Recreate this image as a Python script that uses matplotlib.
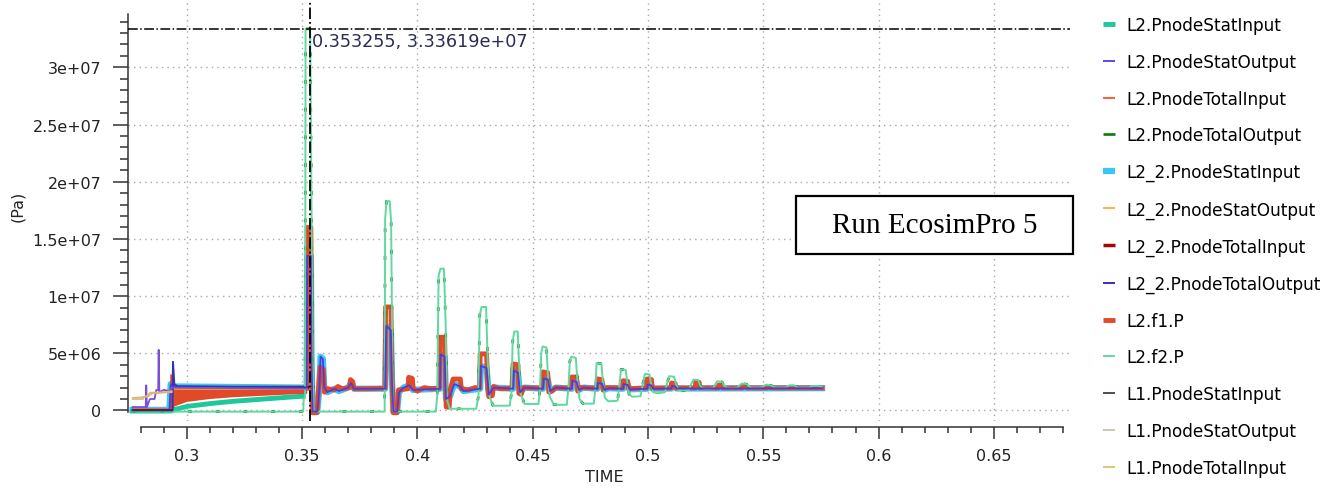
import numpy as np
import matplotlib.pyplot as plt
from matplotlib.ticker import MultipleLocator, FixedLocator, FuncFormatter
from matplotlib.patches import Rectangle

plt.rcParams['font.family'] = ['DejaVu Sans']

# values are in 1e6 Pa, time in s
# L2.f2.P (light green)
t_f2 = [0.2765, 0.3505, 0.3507, 0.3513, 0.3515, 0.3535, 0.3540, 0.3545, 0.3550,
        0.3858, 0.3860, 0.3866, 0.3880, 0.3886, 0.3892, 0.3896,
        0.4080, 0.4086, 0.4092, 0.4100, 0.4115, 0.4122, 0.4128, 0.4140,
        0.4255, 0.4265, 0.4270, 0.4278, 0.4298, 0.4305, 0.4313, 0.4328,
        0.4400, 0.4408, 0.4413, 0.4420, 0.4435, 0.4440, 0.4447, 0.4465,
        0.4525, 0.4532, 0.4537, 0.4543, 0.4560, 0.4566, 0.4574, 0.4592,
        0.4648, 0.4655, 0.4661, 0.4667, 0.4687, 0.4694, 0.4703, 0.4718,
        0.4765, 0.4772, 0.4777, 0.4798, 0.4804, 0.4813, 0.4828,
        0.4868, 0.4876, 0.4883, 0.4903, 0.4910, 0.4918, 0.4933,
        0.4968, 0.4977, 0.4987, 0.5006, 0.5013, 0.5023, 0.5040,
        0.5073, 0.5082, 0.5092, 0.5113, 0.5121, 0.5132, 0.5150,
        0.5178, 0.5187, 0.5197, 0.5218, 0.5225, 0.5237, 0.5255,
        0.5283, 0.5292, 0.5300, 0.5321, 0.5328, 0.5341, 0.5360,
        0.5388, 0.5397, 0.5407, 0.5428, 0.5435, 0.5447, 0.5465,
        0.5493, 0.5502, 0.5512, 0.5533, 0.5540, 0.5552, 0.5570,
        0.5598, 0.5607, 0.5615, 0.5633, 0.5641, 0.5652, 0.5670,
        0.5698, 0.5707, 0.5715, 0.5733, 0.5741, 0.5755]
p_f2 = [-0.1, -0.1, 1.0, 1.2, 33.36, 33.36, 20.0, 5.0, -0.1,
        -0.1, 16.7, 18.3, 18.3, 16.5, 3.0, -0.1,
        -0.1, 1.3, 11.8, 12.4, 12.4, 8.0, 1.0, 0.15,
        0.15, 1.3, 8.3, 9.05, 9.05, 4.2, 1.2, 0.42,
        0.42, 1.5, 6.0, 6.9, 6.9, 4.5, 1.5, 0.57,
        0.57, 2.0, 5.0, 5.6, 5.5, 3.0, 1.2, 0.5,
        0.5, 2.0, 4.3, 4.7, 4.6, 2.5, 1.0, 0.6,
        0.6, 2.0, 4.15, 4.1, 2.5, 1.1, 0.8,
        0.85, 2.2, 3.6, 3.55, 2.5, 1.4, 1.2,
        1.25, 2.3, 3.2, 3.15, 2.4, 1.6, 1.5,
        1.6, 2.3, 3.0, 2.95, 2.3, 1.8, 1.75,
        1.8, 2.3, 2.7, 2.65, 2.2, 1.95, 1.9,
        1.95, 2.3, 2.55, 2.5, 2.2, 2.0, 1.95,
        2.0, 2.2, 2.35, 2.3, 2.15, 2.0, 2.0,
        2.0, 2.15, 2.25, 2.2, 2.1, 2.0, 2.0,
        2.0, 2.15, 2.2, 2.2, 2.1, 2.0, 2.0,
        2.0, 2.1, 2.15, 2.15, 2.1, 2.05]

# L2.f1.P (red) before the first spike: envelope of the fast oscillation
t_f1_pre = [0.2765, 0.2925, 0.2926, 0.2940, 0.2945, 0.3000, 0.3100, 0.3200, 0.3300, 0.3400, 0.3520]
lo_f1_pre = [0.05, 0.05, 0.1, 0.1, 0.4, 0.8, 1.05, 1.2, 1.3, 1.4, 1.5]
hi_f1_pre = [0.2, 0.2, 3.2, 3.2, 1.95, 1.95, 1.95, 1.95, 1.95, 1.95, 1.95]

t_f1 = [0.3520, 0.3522, 0.3538, 0.3540, 0.3545, 0.3565, 0.3570, 0.3578, 0.3592, 0.3597, 0.3610,
        0.3640, 0.3655, 0.3675, 0.3705, 0.3710, 0.3720, 0.3725, 0.3780, 0.3860,
        0.3862, 0.3885, 0.3890, 0.3895, 0.3912, 0.3918, 0.3960, 0.3962, 0.3978, 0.3982,
        0.4000, 0.4030, 0.4060, 0.4095,
        0.4098, 0.4118, 0.4122, 0.4125, 0.4138, 0.4142, 0.4155, 0.4186, 0.4190, 0.4220, 0.4250, 0.4270,
        0.4272, 0.4300, 0.4305, 0.4310, 0.4325, 0.4330, 0.4360, 0.4410,
        0.4415, 0.4436, 0.4440, 0.4450, 0.4460, 0.4540,
        0.4545, 0.4565, 0.4570, 0.4585, 0.4600, 0.4665,
        0.4670, 0.4690, 0.4695, 0.4710, 0.4778,
        0.4780, 0.4800, 0.4805, 0.4820, 0.4890,
        0.4892, 0.4912, 0.4916, 0.4994,
        0.4996, 0.5015, 0.5018, 0.5100, 0.5102, 0.5118, 0.5120, 0.5205, 0.5207, 0.5222, 0.5224,
        0.5305, 0.5307, 0.5322, 0.5324, 0.5410, 0.5412, 0.5428, 0.5430, 0.5515, 0.5517, 0.5530,
        0.5532, 0.5755]
p_f1 = [1.95, 16.0, 16.0, 6.0, -0.2, -0.2, 1.5, 3.8, 3.6, 1.6, 1.9,
        1.8, 2.1, 1.9, 2.0, 2.7, 2.5, 1.9, 1.9, 1.95,
        9.05, 9.05, 3.0, -0.2, -0.2, 1.8, 1.9, 2.9, 2.8, 1.9,
        1.7, 2.0, 1.9, 1.95,
        6.4, 6.4, 2.0, 0.3, 0.3, 1.8, 2.75, 2.75, 1.9, 1.8, 2.0, 1.95,
        4.95, 4.95, 2.0, 1.2, 1.3, 2.1, 1.9, 1.95,
        4.07, 4.0, 1.5, 1.4, 2.0, 1.95,
        3.37, 3.3, 1.6, 1.7, 2.0, 1.95,
        2.93, 2.9, 1.7, 2.0, 1.95,
        2.76, 2.7, 1.8, 2.0, 1.97,
        2.6, 2.55, 1.9, 1.97,
        2.75, 2.7, 1.95, 1.97, 2.4, 2.35, 1.97, 1.97, 2.5, 2.45, 1.97,
        1.97, 2.23, 2.2, 1.97, 1.97, 2.15, 2.1, 1.97, 1.97, 2.1, 2.1,
        1.97, 1.97]

# L2.PnodeStatOutput (blue), L2_2.PnodeStatInput sits under it
t_out = [0.2765, 0.2925, 0.2930, 0.2945, 0.3520,
         0.3522, 0.3538, 0.3541, 0.3546, 0.3566, 0.3575, 0.3580, 0.3590, 0.3596, 0.3610,
         0.3640, 0.3660, 0.3700, 0.3712, 0.3725, 0.3860,
         0.3865, 0.3885, 0.3890, 0.3896, 0.3912, 0.3920, 0.3940, 0.3965, 0.3980, 0.4098,
         0.4100, 0.4118, 0.4124, 0.4140, 0.4160, 0.4185, 0.4200, 0.4272,
         0.4275, 0.4300, 0.4310, 0.4330, 0.4415,
         0.4418, 0.4436, 0.4445, 0.4465, 0.4545,
         0.4548, 0.4566, 0.4575, 0.4600, 0.4670,
         0.4672, 0.4690, 0.4700, 0.4720, 0.4780,
         0.4782, 0.4800, 0.4810, 0.4830, 0.4892, 0.4894, 0.4912, 0.4920, 0.4996,
         0.4998, 0.5015, 0.5022, 0.5102, 0.5104, 0.5118, 0.5125, 0.5755]
p_out = [0.05, 0.05, 2.3, 2.1, 2.0,
         13.5, 13.5, 4.0, -0.1, -0.1, 2.0, 4.7, 4.5, 2.0, 1.6,
         1.9, 1.7, 2.0, 2.4, 1.9, 1.9,
         7.4, 7.0, 2.5, -0.1, -0.1, 1.6, 2.0, 2.2, 1.8, 1.9,
         4.9, 4.7, 1.0, 1.2, 2.3, 2.1, 1.7, 1.9,
         3.9, 3.7, 1.4, 2.0, 1.9,
         3.5, 3.3, 1.6, 2.0, 1.9,
         2.8, 2.7, 1.7, 2.0, 1.9,
         2.6, 2.5, 1.8, 2.0, 1.9,
         2.4, 2.35, 1.8, 1.95, 1.9, 2.3, 2.25, 1.85, 1.9,
         2.25, 2.2, 1.9, 1.92, 2.15, 2.1, 1.92, 1.95]

# L2.PnodeStatInput (teal)
t_teal = [0.2765, 0.2935, 0.2950, 0.3000, 0.3100, 0.3200, 0.3300, 0.3400, 0.3505]
p_teal = [-0.05, -0.05, 0.1, 0.35, 0.6, 0.8, 0.95, 1.1, 1.25]

# L2_2.PnodeTotalOutput (indigo)
t_tout = [0.2765, 0.2938, 0.2940, 0.2946, 0.2960, 0.3520]
p_tout = [0.0, 0.0, 4.25, 2.3, 2.1, 2.0]

# unlabeled purple trace
t_purple = [0.2765, 0.2822, 0.2824, 0.2827, 0.2840, 0.2860, 0.2868, 0.2876, 0.2878, 0.2881, 0.2900, 0.2925, 0.2935, 0.3520]
p_purple = [0.3, 0.3, 2.2, 0.3, 1.0, 1.0, 1.8, 1.8, 5.3, 1.6, 1.8, 1.7, 2.0, 1.9]

# L2_2.PnodeTotalInput (dark red), L2.PnodeTotalInput, L2_2.PnodeStatOutput
t_tin2 = [0.2945, 0.3520]
p_tin2 = [2.05, 2.05]
t_tin = [0.2765, 0.2930]
p_tin = [0.1, 0.1]
t_sout2 = [0.2945, 0.3520]
p_sout2 = [1.88, 1.88]

# L1 nodes
t_l1_sin = [0.2765, 0.2935]
p_l1_sin = [0.0, 0.0]
t_l1_sout = [0.2765, 0.2830, 0.2850, 0.2935]
p_l1_sout = [1.1, 1.2, 1.5, 1.6]
t_l1_tin = [0.2765, 0.2810, 0.2815, 0.2830, 0.2840, 0.2900, 0.2935]
p_l1_tin = [1.0, 1.0, 1.2, 1.3, 1.55, 1.6, 1.7]

cursor_t = 0.353255
cursor_p = 3.33619e7

M = 1e6


def mpa(v):
    return np.array(v) * M


fig = plt.figure(figsize=(13.41, 4.89), dpi=100)
ax = fig.add_axes([128 / 1341, 67 / 489, 942 / 1341, 420 / 489])

sky, = ax.plot(t_out, mpa(p_out), color='#38c8f8', lw=4.5, zorder=2)
teal, = ax.plot(t_teal, mpa(p_teal), color='#1dc99a', lw=3.5, zorder=2)
ax.fill_between(t_f1_pre, mpa(lo_f1_pre), mpa(hi_f1_pre), color='#e04a28', lw=0, zorder=3)
f1, = ax.plot(t_f1, mpa(p_f1), color='#e04a28', lw=3.5, zorder=3)
tin2, = ax.plot(t_tin2, mpa(p_tin2), color='#a00808', lw=2.5, zorder=3)
tin, = ax.plot(t_tin, mpa(p_tin), color='#f2643c', lw=1.5, zorder=3)
sout2, = ax.plot(t_sout2, mpa(p_sout2), color='#f8a830', lw=1.2, zorder=3)
tout_g, = ax.plot(t_f2, mpa(p_f2), color='#0a7a0a', lw=1.9, ls=(0, (1.5, 9)), zorder=4)
f2, = ax.plot(t_f2, mpa(p_f2), color='#60d8a0', lw=1.4, zorder=5)
sout, = ax.plot(t_out, mpa(p_out), color='#4a3ee0', lw=1.3, zorder=6)
tout, = ax.plot(t_tout, mpa(p_tout), color='#3434b0', lw=1.4, zorder=6)
ax.plot(t_purple, mpa(p_purple), color='#7a4fd8', lw=1.3, zorder=6)
l1s, = ax.plot(t_l1_sin, mpa(p_l1_sin), color='#3a2a3a', lw=1.2, zorder=6)
l1o, = ax.plot(t_l1_sout, mpa(p_l1_sout), color='#c8b8a8', lw=1.2, zorder=6)
l1t, = ax.plot(t_l1_tin, mpa(p_l1_tin), color='#e0b860', lw=1.2, zorder=6)

# cursor
ax.axvline(cursor_t, color='black', lw=1.3, ls='-.', zorder=7)
ax.axhline(cursor_p, color='black', lw=1.1, ls='-.', zorder=7)
ax.annotate(f"{cursor_t:g}, {cursor_p:g}", xy=(cursor_t, cursor_p), xytext=(2, -2),
            textcoords='offset points', ha='left', va='top', fontsize=12.7, color='#2b2b55', zorder=8)

ax.set_xlim(0.2745, 0.683)
ax.set_ylim(-0.92e6, 35.8e6)

for s in ['top', 'right']:
    ax.spines[s].set_visible(False)
ax.spines['left'].set_bounds(-0.1e6, 34.7e6)
ax.spines['bottom'].set_bounds(0.28, 0.68)
ax.spines['bottom'].set_position(('outward', 4))
for s in ['left', 'bottom']:
    ax.spines[s].set_linewidth(1.1)
    ax.spines[s].set_color('#333333')

ax.xaxis.set_major_locator(MultipleLocator(0.05))
ax.xaxis.set_minor_locator(MultipleLocator(0.01))
ax.yaxis.set_major_locator(FixedLocator(np.arange(0, 3.1e7, 5e6)))
ax.yaxis.set_minor_locator(FixedLocator(np.arange(0, 35e6, 1e6)))
ax.xaxis.set_major_formatter(FuncFormatter(lambda v, p: f"{v:g}"))
ax.yaxis.set_major_formatter(FuncFormatter(lambda v, p: f"{v:g}"))
ax.tick_params(axis='y', which='major', length=11, width=1.1, pad=8, labelsize=11.5, colors='#333333', labelcolor='#222222')
ax.tick_params(axis='y', which='minor', length=5.5, width=1.1, colors='#333333')
ax.tick_params(axis='x', which='major', length=8.5, width=1.1, pad=7, labelsize=11.5, colors='#333333', labelcolor='#222222')
ax.tick_params(axis='x', which='minor', length=4.3, width=1.1, colors='#333333')

ax.grid(True, which='major', color='#a8a8a8', lw=1.0, ls=(0, (1, 3)))
ax.set_axisbelow(True)

ax.set_xlabel('TIME', fontsize=11.5, color='#222222')
ax.xaxis.set_label_coords(0.506, -0.115)
ax.set_ylabel('(Pa)', fontsize=11.5, color='#222222')
ax.yaxis.set_label_coords(-0.109, 0.513)

handles = [teal, sout, tin, tout_g, sky, sout2, tin2, tout, f1, f2, l1s, l1o, l1t]
labels = ['L2.PnodeStatInput', 'L2.PnodeStatOutput', 'L2.PnodeTotalInput', 'L2.PnodeTotalOutput',
          'L2_2.PnodeStatInput', 'L2_2.PnodeStatOutput', 'L2_2.PnodeTotalInput', 'L2_2.PnodeTotalOutput',
          'L2.f1.P', 'L2.f2.P', 'L1.PnodeStatInput', 'L1.PnodeStatOutput', 'L1.PnodeTotalInput']
leg = fig.legend(handles, labels, loc='upper left', bbox_to_anchor=(1103 / 1341, 1 - 17 / 489),
                 frameon=False, fontsize=12.2, handlelength=0.7, handletextpad=0.7,
                 labelspacing=1.11, borderpad=0, borderaxespad=0)
for h in leg.legend_handles:
    h.set_linestyle('-')
    h.set_solid_capstyle('butt')

# text box
fig.add_artist(Rectangle((796 / 1341, 1 - 255 / 489), 277 / 1341, 58 / 489, transform=fig.transFigure,
                         facecolor='white', edgecolor='black', lw=1.6, zorder=5))
fig.text(934.5 / 1341, 1 - 226 / 489, 'Run EcosimPro 5', ha='center', va='center',
         family='Liberation Serif', fontsize=21, color='black', zorder=6)

fig.savefig('out.png', dpi=100)
